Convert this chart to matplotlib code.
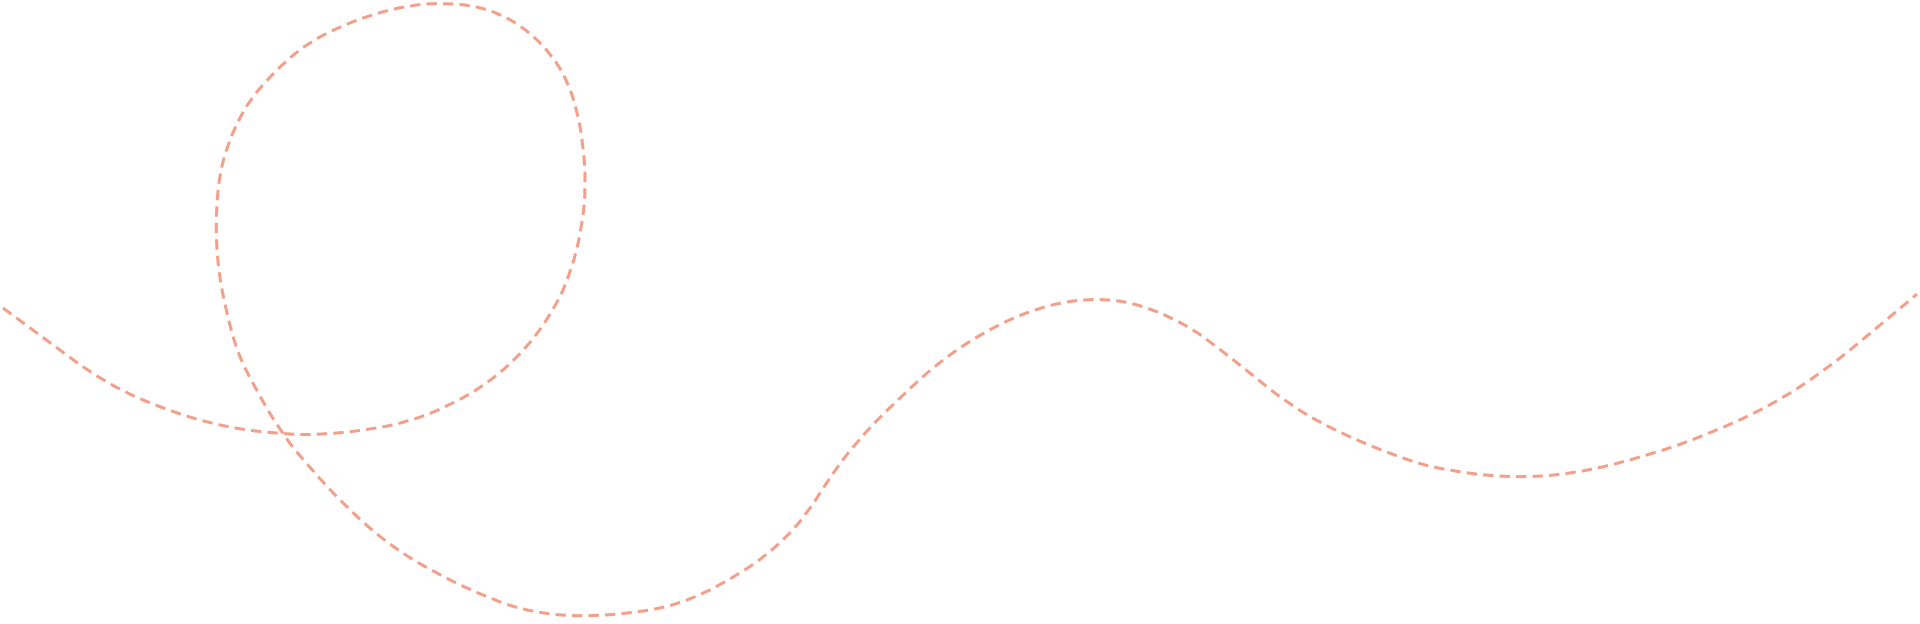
import matplotlib
matplotlib.use("Agg")
import matplotlib.pyplot as plt
from matplotlib.path import Path
from matplotlib.patches import PathPatch

# path of the dashed decorative curve (pixels, y down)
curve_x = [3, 41, 106, 171, 229, 282, 318, 367, 408, 449, 490, 527, 555, 571,
           582, 586, 583, 577, 567, 553, 533, 507, 477, 443, 410, 370, 337,
           310, 287, 267, 250, 237, 227, 220, 217, 216, 217, 220, 226, 237,
           255, 282, 310, 347, 388, 433, 490, 531, 580, 644, 689, 742, 779,
           807, 828, 856, 897, 946, 1000, 1050, 1097, 1140, 1187, 1217, 1250,
           1287, 1333, 1400, 1443, 1509, 1574, 1647, 1709, 1770, 1823, 1872,
           1917]
curve_y = [308, 336, 384, 412, 428, 434, 435, 430, 422, 406, 382, 348, 308, 272,
           228, 185, 143, 110, 80, 57, 35, 17, 6, 3, 5, 15, 28,
           42, 60, 80, 100, 123, 147, 173, 200, 227, 253, 280, 310, 352,
           388, 434, 468, 508, 544, 572, 599, 612, 617, 612, 601, 573, 545,
           514, 480, 442, 400, 356, 323, 304, 298, 304, 325, 347, 373,
           403, 430, 458, 470, 478, 474, 456, 434, 406, 372, 332,
           294]

# smooth path: read points act as quadratic bezier controls
pts = list(zip(curve_x, curve_y))
verts = [pts[0]]
codes = [Path.MOVETO]
for i in range(1, len(pts) - 1):
    mid = ((pts[i][0] + pts[i + 1][0]) / 2, (pts[i][1] + pts[i + 1][1]) / 2)
    verts += [pts[i], mid]
    codes += [Path.CURVE3, Path.CURVE3]
verts.append(pts[-1])
codes.append(Path.LINETO)

fig = plt.figure(figsize=(19.2, 6.24), dpi=100)
ax = fig.add_axes([0, 0, 1, 1])
ax.add_patch(PathPatch(Path(verts, codes), facecolor="none", edgecolor="#F2A08A",
                       linewidth=2.2, linestyle=(0, (3.4, 2.0)), capstyle="butt"))
ax.set_xlim(0, 1920)
ax.set_ylim(624, 0)
ax.axis("off")

fig.savefig("out.png", dpi=100, facecolor="white")
